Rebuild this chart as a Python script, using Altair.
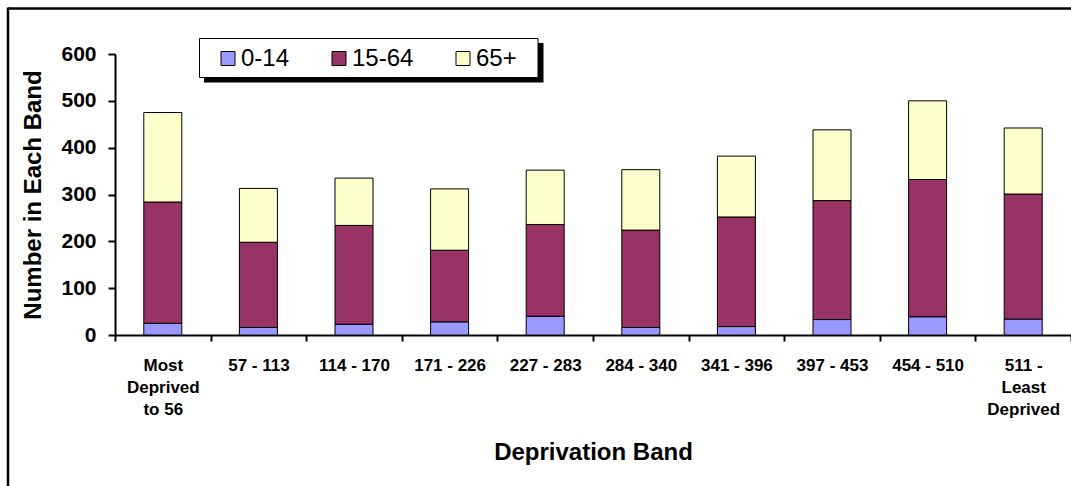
import altair as alt
import pandas as pd

categories = [
    "Most\nDeprived\nto 56", "57 - 113", "114 - 170", "171 - 226", "227 - 283",
    "284 - 340", "341 - 396", "397 - 453", "454 - 510", "511 -\nLeast\nDeprived",
]
age_groups = ["0-14", "15-64", "65+"]
vals_0_14 = [25, 16, 23, 28, 40, 16, 18, 33, 39, 34]
vals_15_64 = [259, 182, 211, 153, 196, 208, 234, 254, 293, 267]
vals_65p = [191, 115, 101, 131, 116, 129, 130, 151, 168, 141]
colors = ["#9999FF", "#993366", "#FFFFCC"]

rows = []
for series, vals in zip(age_groups, [vals_0_14, vals_15_64, vals_65p]):
    for c, v in zip(categories, vals):
        rows.append({"band": c, "age": series, "value": v, "order": age_groups.index(series)})
df = pd.DataFrame(rows)

W, H = 956, 281
one = pd.DataFrame([{"k": 1}])

shadow = alt.Chart(one).mark_rect(color="black").encode(
    x=alt.value(89), x2=alt.value(428.5), y=alt.value(-11), y2=alt.value(28.5)
)
box = alt.Chart(one).mark_rect(fill="white", stroke="black", strokeWidth=1).encode(
    x=alt.value(84.5), x2=alt.value(423), y=alt.value(-15.5), y2=alt.value(23.5)
)

bars = alt.Chart(df).mark_bar(size=38, stroke="black", strokeWidth=1).encode(
    x=alt.X(
        "band:N",
        sort=categories,
        scale=alt.Scale(paddingInner=0, paddingOuter=0),
        axis=alt.Axis(
            title="Deprivation Band",
            labelExpr="split(datum.label, '\\n')",
            labelAngle=0,
            labelFont="Liberation Sans",
            labelFontWeight="bold",
            labelFontSize=17,
            labelLineHeight=22,
            labelPadding=16,
            labelColor="black",
            tickBand="extent",
            tickSize=6,
            tickWidth=2,
            tickColor="black",
            domainColor="black",
            domainWidth=2,
            titleFont="Liberation Sans",
            titleFontSize=24,
            titleFontWeight="bold",
            titleColor="black",
            titleBaseline="alphabetic",
            titleY=124,
        ),
    ),
    y=alt.Y(
        "value:Q",
        stack="zero",
        scale=alt.Scale(domain=[0, 600], nice=False),
        axis=alt.Axis(
            title="Number in Each Band",
            values=[0, 100, 200, 300, 400, 500, 600],
            grid=False,
            labelFont="Liberation Sans",
            labelFontWeight="bold",
            labelFontSize=21,
            labelPadding=12,
            labelColor="black",
            tickSize=7,
            tickWidth=2,
            tickColor="black",
            domainColor="black",
            domainWidth=2,
            titleFont="Liberation Sans",
            titleFontSize=24,
            titleFontWeight="bold",
            titleColor="black",
            titleBaseline="alphabetic",
            titleX=-75,
            titleY=H / 2,
        ),
    ),
    color=alt.Color(
        "age:N",
        sort=age_groups,
        scale=alt.Scale(domain=age_groups, range=colors),
        legend=alt.Legend(
            title=None,
            orient="none",
            direction="horizontal",
            legendX=101,
            legendY=-7.5,
            padding=0,
            symbolType="square",
            symbolSize=196,
            symbolStrokeColor="black",
            symbolStrokeWidth=1,
            symbolOpacity=1,
            labelFont="Liberation Sans",
            labelFontSize=24,
            labelColor="black",
            labelOffset=1,
            columnPadding=37,
        ),
    ),
    order=alt.Order("order:Q", sort="ascending"),
)

border_top = alt.Chart(one).mark_rule(color="black", strokeWidth=2.5).encode(
    x=alt.value(-107), x2=alt.value(W + 10), y=alt.value(-45.5)
)
border_left = alt.Chart(one).mark_rule(color="black", strokeWidth=2.5).encode(
    x=alt.value(-107), y=alt.value(-46.5), y2=alt.value(H + 200)
)

chart = alt.layer(shadow, box, bars, border_top, border_left).properties(
    width=W,
    height=H,
    autosize=alt.AutoSizeParams(type="none"),
    padding={"left": 115, "top": 54, "right": 0, "bottom": 151},
    background="white",
).configure_view(strokeWidth=0)

chart.save("out.html", embed_options={"renderer": "svg", "actions": False})
